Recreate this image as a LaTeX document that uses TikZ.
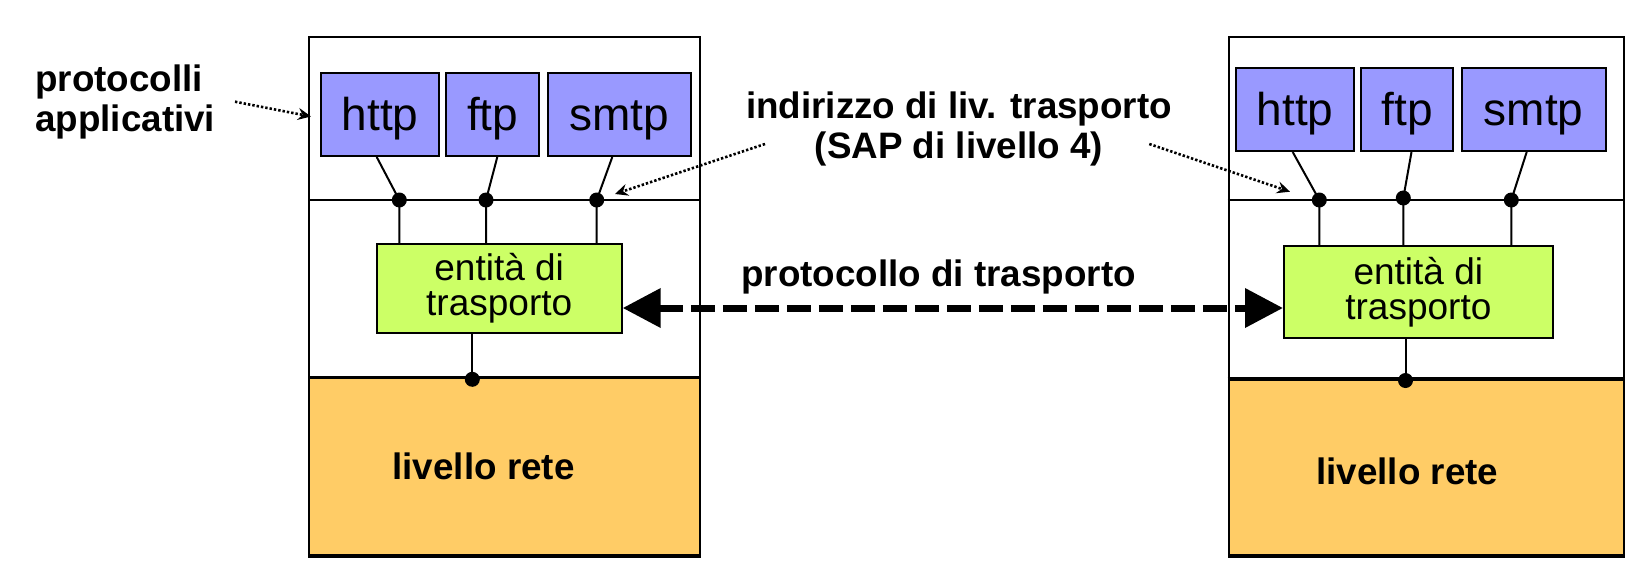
\documentclass[tikz,border=0pt]{standalone}
\usepackage{fontspec}
\setmainfont{Liberation Sans}
\usetikzlibrary{arrows.meta}
\definecolor{appblue}{HTML}{9999FF}
\definecolor{entgreen}{HTML}{CCFF66}
\definecolor{netorange}{HTML}{FFCC66}
\begin{document}
\begin{tikzpicture}[x=1pt,y=-1pt,
  stackbox/.style={draw, line width=2pt, fill=white, inner sep=0pt, anchor=north west},
  netbox/.style={draw, line width=2pt, fill=netorange, inner sep=0pt, anchor=south west},
  appbox/.style={draw, line width=2pt, fill=appblue, anchor=base, inner xsep=0pt, inner ysep=0pt,
    text height=57.4pt, text depth=26pt, font=\fontsize{46}{50}\selectfont},
  entbox/.style={draw, line width=2pt, fill=entgreen, align=center, inner sep=0pt,
    font=\fontsize{37}{35}\selectfont},
  lbl/.style={font=\fontsize{36.8}{40}\selectfont\bfseries, inner sep=0pt, anchor=base},
  conn/.style={line width=2pt},
  sapline/.style={line width=2pt},
  netline/.style={line width=3.2pt},
  dotarrow/.style={line width=2.6pt, dash pattern=on 2.4pt off 2pt,
    -{Stealth[length=13pt,width=12pt,inset=4.5pt]}},
  tparrow/.style={line width=7pt, dash pattern=on 24pt off 8pt,
    {Triangle[length=38pt,width=38pt]}-{Triangle[length=38pt,width=38pt]}}
]
\useasboundingbox (0,0) rectangle (1642,574);

% stacks
\node[stackbox, minimum width=391pt, minimum height=520pt] (stackL) at (308.3,36) {};
\node[stackbox, minimum width=394.8pt, minimum height=520pt] (stackR) at (1227.7,36) {};
\node[netbox, minimum width=391pt, minimum height=176.7pt] (netL) at (308.3,556) {};
\node[netbox, minimum width=394.8pt, minimum height=175.5pt] (netR) at (1227.7,556) {};
\draw[netline] (netL.north west) -- (netL.north east);
\draw[netline] (netR.north west) -- (netR.north east);

% SAP lines
\coordinate (sapy) at (0,200);
\draw[sapline] (stackL.west |- sapy) -- (stackL.east |- sapy);
\draw[sapline] (stackR.west |- sapy) -- (stackR.east |- sapy);

% application boxes
\node[appbox, minimum width=118.3pt] (httpL) at (380.2,130) {http};
\node[appbox, minimum width=93.3pt] (ftpL) at (492.7,130) {ftp};
\node[appbox, minimum width=143.3pt] (smtpL) at (619.3,130) {smtp};
\node[appbox, minimum width=118.6pt] (httpR) at (1295,125) {http};
\node[appbox, minimum width=92.6pt] (ftpR) at (1407,125) {ftp};
\node[appbox, minimum width=144pt] (smtpR) at (1533.7,125) {smtp};

% transport entities
\node[entbox, minimum width=245pt, minimum height=89.3pt] (entL) at (499.2,288.7) {entità di\\trasporto};
\node[entbox, minimum width=268.7pt, minimum height=91.5pt] (entR) at (1418.35,291.75) {entità di\\trasporto};

% SAP points
\coordinate (dHL) at (399.3,200);
\coordinate (dFL) at (486,200);
\coordinate (dSL) at (596.7,200);
\coordinate (dNL) at (472.3,379.3);
\coordinate (dHR) at (1319.3,200);
\coordinate (dFR) at (1403.3,198);
\coordinate (dSR) at (1511.3,200);
\coordinate (dNR) at (1405.5,380.5);

% connectors
\draw[conn] ([xshift=-3.5pt]httpL.south) -- (dHL) -- (dHL |- entL.north);
\draw[conn] ([xshift=4.6pt]ftpL.south) -- (dFL) -- (dFL |- entL.north);
\draw[conn] ([xshift=-7pt]smtpL.south) -- (dSL) -- (dSL |- entL.north);
\draw[conn] (entL.south -| dNL) -- (dNL);
\draw[conn] ([xshift=-2.3pt]httpR.south) -- (dHR) -- (dHR |- entR.north);
\draw[conn] ([xshift=4.5pt]ftpR.south) -- (dFR) -- (dFR |- entR.north);
\draw[conn] ([xshift=-7pt]smtpR.south) -- (dSR) -- (dSR |- entR.north);
\draw[conn] (entR.south -| dNR) -- (dNR);

\foreach \d in {dHL,dFL,dSL,dNL,dHR,dFR,dSR,dNR} \fill (\d) circle[radius=7.5pt];

% labels
\node[lbl, anchor=base west] (lblPA1) at (35,91.7) {protocolli};
\node[lbl, anchor=base west] (lblPA2) at (35,131.7) {applicativi};
\node[lbl] (lblSAP1) at (959,118.3) {indirizzo di liv. trasporto};
\node[lbl] (lblSAP2) at (959,158.3) {(SAP di livello 4)};
\node[lbl] (lblTP) at (938.5,286) {protocollo di trasporto};
\node[lbl] (lblNetL) at (483.5,479.3) {livello rete};
\node[lbl] (lblNetR) at (1407.2,484) {livello rete};

% dotted pointers
\coordinate (paStart) at (235,101.7);
\coordinate (paEnd) at (311,116.5);
\coordinate (sapStartL) at (765,144);
\coordinate (sapEndL) at (615,194);
\coordinate (sapStartR) at (1149.3,144);
\coordinate (sapEndR) at (1290,191.7);
\draw[dotarrow] (paStart) -- (paEnd);
\draw[dotarrow] (sapStartL) -- (sapEndL);
\draw[dotarrow] (sapStartR) -- (sapEndR);

% transport protocol arrow
\coordinate (arry) at (0,308);
\draw[tparrow] (entL.east |- arry) -- (entR.west |- arry);
\end{tikzpicture}
\end{document}
